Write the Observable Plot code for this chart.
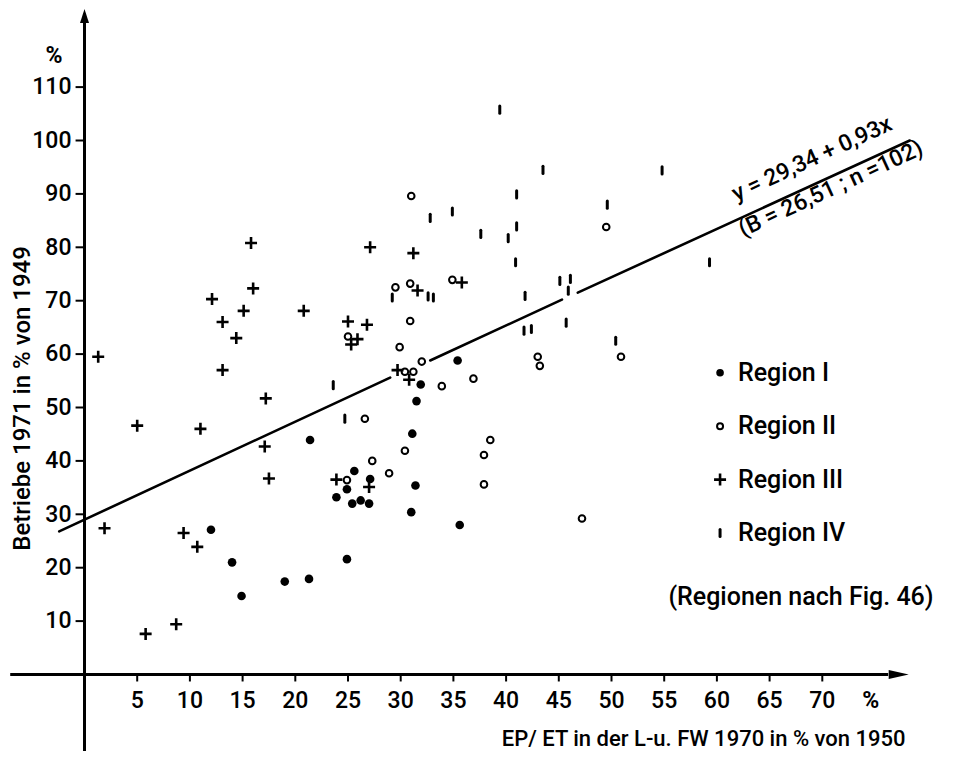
<!DOCTYPE html>
<html><head><meta charset="utf-8">
<script src="https://cdn.jsdelivr.net/npm/d3@7"></script>
<script src="https://cdn.jsdelivr.net/npm/@observablehq/plot@0.6"></script>
<style>
html,body{margin:0;padding:0;background:#fff;}
#chart svg{display:block;}
</style></head>
<body><div id="chart"></div>
<script>
// ---- data ----
const region1X = [12.0,14.0,14.9,19.0,21.3,21.4,24.9,23.9,24.9,25.6,25.4,26.2,27.0,27.1,31.0,31.4,31.1,31.5,31.9,35.4,35.6];
const region1Y = [27.1,21.0,14.7,17.4,17.9,43.9,21.6,33.2,34.7,38.1,32.0,32.6,32.0,36.6,30.4,35.4,45.1,51.2,54.3,58.8,28.0];

const region2X = [31.0,34.9,29.5,30.9,30.9,25.0,29.9,32.0,43.0,43.2,36.9,30.4,31.2,33.9,26.6,38.5,30.4,37.9,27.3,28.9,24.9,37.9,47.2,50.9,49.5];
const region2Y = [89.6,73.9,72.5,73.2,66.2,63.3,61.3,58.6,59.5,57.8,55.4,56.7,56.7,54.0,47.9,43.9,41.9,41.1,40.0,37.7,36.4,35.6,29.2,59.5,83.8];

const region3X = [1.3,12.1,13.1,14.4,15.1,15.8,16.0,20.8,13.1,17.2,5.0,11.0,17.1,17.5,1.9,9.4,10.7,5.8,8.7,27.1,31.2,35.8,31.6,25.0,26.8,25.9,25.3,29.7,30.8,23.9,27.0];
const region3Y = [59.5,70.3,66.0,63.0,68.1,80.8,72.3,68.1,57.0,51.7,46.6,46.0,42.7,36.7,27.4,26.5,23.9,7.6,9.4,80.0,78.9,73.4,71.9,66.1,65.5,62.8,61.8,57.0,55.2,36.5,35.1];

const region4X = [39.4,43.5,54.8,41.0,32.8,34.9,37.6,40.2,41.0,40.9,49.6,59.3,45.1,46.1,45.9,41.8,29.2,32.6,33.1,41.7,42.4,45.7,50.4,23.6,24.7];
const region4Y = [105.8,94.5,94.4,89.9,85.5,86.7,82.5,81.7,83.9,77.2,88.0,77.2,73.7,74.1,71.9,70.9,70.6,70.8,70.6,64.4,64.7,65.9,62.5,54.2,47.9];

// regression line as drawn (broken where it passes markers)
const trendX   = [-2.4, 29.0, 32.8, 45.3, 46.8, 78.3];
const trendY   = [26.8, 55.6, 58.8, 70.2, 71.5, 100.0];
const trendSeg = [1, 1, 2, 2, 3, 3];

const xTicks = [5,10,15,20,25,30,35,40,45,50,55,60,65,70];
const yTicks = [10,20,30,40,50,60,70,80,90,100,110];

const regionNames = ["Region I","Region II","Region III","Region IV"];
const equationText = "y = 29,34 + 0,93x";
const statText = "(B = 26,51 ; n =102)";
const xTitle = "EP/ ET in der L-u. FW 1970 in % von 1950";
const yTitle = "Betriebe 1971 in % von 1949";
const legendNote = "(Regionen nach Fig. 46)";

// ---- build ----
const toPts = (xs, ys) => xs.map((x, i) => ({x, y: ys[i]}));
const r1 = toPts(region1X, region1Y);
const r2 = toPts(region2X, region2Y);
const r3 = toPts(region3X, region3Y);
const r4 = toPts(region4X, region4Y);
const trend = trendX.map((x, i) => ({x, y: trendY[i], s: trendSeg[i]}));

const pxX = 10.54, pxY = 5.34, x0 = 84, y0 = 674, W = 960, H = 757;
const xDomain = [-x0 / pxX, (W - x0) / pxX];
const yDomain = [-(H - y0) / pxY, y0 / pxY];

const barSym = {draw(ctx){ ctx.moveTo(0,-3.6); ctx.lineTo(0,3.6); }};
const plusSym = {draw(ctx){ ctx.moveTo(-6,0); ctx.lineTo(6,0); ctx.moveTo(0,-6); ctx.lineTo(0,6); }};
const arrowUp = {draw(ctx){ ctx.moveTo(0,-14); ctx.lineTo(4.5,0); ctx.lineTo(-4.5,0); ctx.closePath(); }};
const arrowRt = {draw(ctx){ ctx.moveTo(0,-20); ctx.lineTo(4.5,0); ctx.lineTo(-4.5,0); ctx.closePath(); }};

const angle = Math.atan((trendY[5]-trendY[0])*pxY / ((trendX[5]-trendX[0])*pxX)) * 180 / Math.PI;

const font = "Roboto, 'DejaVu Sans', sans-serif";
const legendIdx = [0,1,2,3];
const legY = i => 56.5 - 10 * i;

const chart = Plot.plot({
  width: W, height: H, margin: 0,
  x: {domain: xDomain, axis: null},
  y: {domain: yDomain, axis: null},
  style: {fontFamily: font, background: "#fff", color: "#000"},
  marks: [
    // axes
    Plot.ruleY([0], {x1: -7.0, x2: 76.3, stroke: "#000", strokeWidth: 3}),
    Plot.ruleX([0], {y1: -14.4, y2: 122.0, stroke: "#000", strokeWidth: 3}),
    Plot.dot([0], {x: 0, y: 122.0, symbol: arrowUp, r: 5, fill: "#000", stroke: "none"}),
    Plot.dot([0], {x: 76.3, y: 0, symbol: arrowRt, r: 5, rotate: 90, fill: "#000", stroke: "none"}),
    Plot.ruleY(yTicks, {y: d => d, x1: -0.8, x2: 0, stroke: "#000", strokeWidth: 2}),
    Plot.ruleX(xTicks, {x: d => d, y1: 0, y2: -1.4, stroke: "#000", strokeWidth: 2}),
    Plot.text(yTicks, {x: 0, y: d => d, text: d => String(d), dx: -13, textAnchor: "end", fontSize: 23, fontWeight: 500}),
    Plot.text(["%"], {x: 0, y: 115.9, text: d => d, dx: -22, textAnchor: "end", fontSize: 23, fontWeight: 700}),
    Plot.text(xTicks, {x: d => d, y: 0, text: d => String(d), dy: 26, fontSize: 23, fontWeight: 500}),
    Plot.text(["%"], {x: 74.6, y: 0, text: d => d, dy: 26, fontSize: 23, fontWeight: 700}),
    Plot.text([xTitle], {x: 77.9, y: -12.0, text: d => d, textAnchor: "end", fontSize: 22, fontWeight: 500, letterSpacing: 0.3}),
    Plot.text([yTitle], {x: -5.9, y: 51.7, text: d => d, rotate: -90, fontSize: 24, fontWeight: 500, letterSpacing: 1}),

    // regression line
    Plot.line(trend, {x: "x", y: "y", z: "s", stroke: "#000", strokeWidth: 2.6}),
    Plot.text([equationText], {x: 69.0, y: 96.6, text: d => d, rotate: -angle, fontSize: 23, fontWeight: 500}),
    Plot.text([statText], {x: 70.8, y: 91.0, text: d => d, rotate: -angle, fontSize: 23, fontWeight: 500}),

    // data
    Plot.dot(r1, {x: "x", y: "y", r: 4.3, fill: "#000", stroke: "none"}),
    Plot.dot(r2, {x: "x", y: "y", r: 3.3, fill: "none", stroke: "#000", strokeWidth: 2}),
    Plot.dot(r3, {x: "x", y: "y", symbol: plusSym, r: 5, fill: "none", stroke: "#000", strokeWidth: 2.6}),
    Plot.dot(r4, {x: "x", y: "y", symbol: barSym, r: 5, fill: "none", stroke: "#000", strokeWidth: 3, strokeLinecap: "round"}),

    // legend
    Plot.dot([0], {x: 60.3, y: legY(0), r: 3.8, fill: "#000", stroke: "none"}),
    Plot.dot([1], {x: 60.3, y: legY(1), r: 3.0, fill: "none", stroke: "#000", strokeWidth: 2}),
    Plot.dot([2], {x: 60.3, y: legY(2), symbol: plusSym, r: 5, fill: "none", stroke: "#000", strokeWidth: 2.6}),
    Plot.dot([3], {x: 60.3, y: legY(3), symbol: barSym, r: 5, fill: "none", stroke: "#000", strokeWidth: 3, strokeLinecap: "round"}),
    Plot.text(legendIdx, {x: 62.0, y: i => legY(i), text: i => regionNames[i], textAnchor: "start", fontSize: 25, fontWeight: 500, letterSpacing: 1.2}),
    Plot.text([legendNote], {x: 55.4, y: 14.6, text: d => d, textAnchor: "start", fontSize: 25, fontWeight: 500, letterSpacing: 1.6})
  ]
});
document.getElementById("chart").appendChild(chart);
</script>
</body></html>
